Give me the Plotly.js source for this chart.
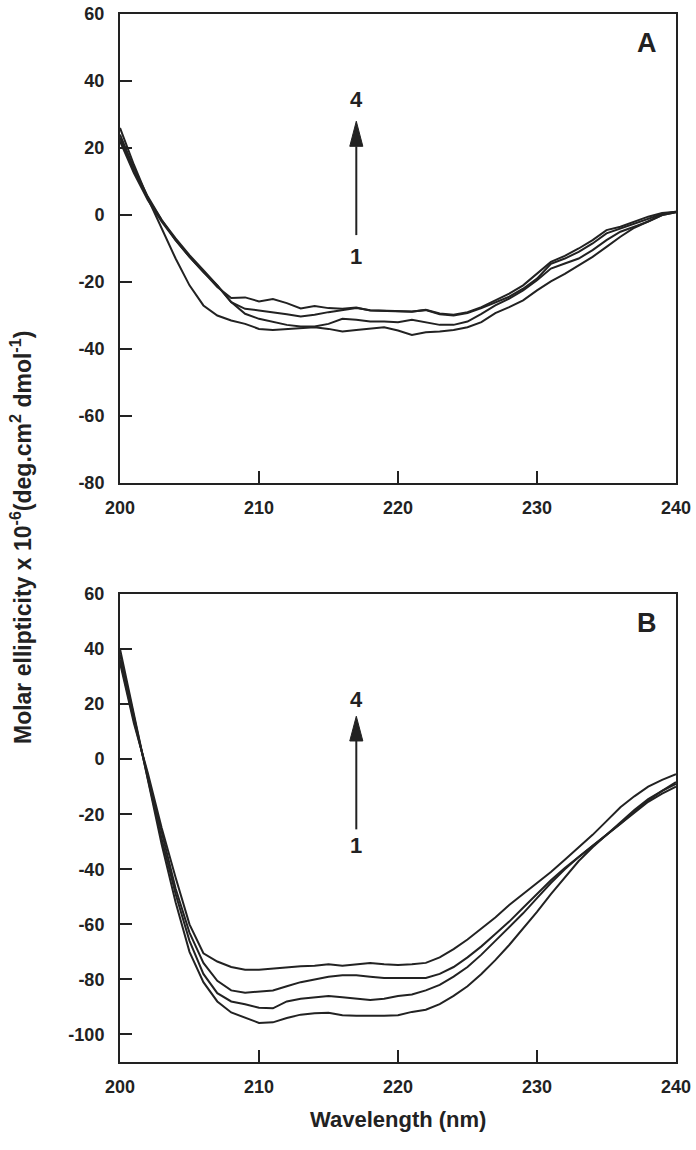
<!DOCTYPE html>
<html>
<head>
<meta charset="utf-8">
<script src="https://cdn.plot.ly/plotly-3.0.1.min.js"></script>
<style>html,body{margin:0;padding:0;background:#fff;}#chart{width:696px;height:1150px;}</style>
</head>
<body>
<div id="chart"></div>
<script>
// Wavelength (nm)
const wavelength = [200,201,202,203,204,205,206,207,208,209,210,211,212,213,214,215,216,217,218,219,220,
                    221,222,223,224,225,226,227,228,229,230,231,232,233,234,235,236,237,238,239,240];

// Panel A – four spectra (1 = lowest, 4 = highest)
const a1 = [26,15,5,-4,-13,-21,-27,-30,-31.5,-32.5,-34,-34.3,-34,-33.8,-33.5,-34,-34.8,-34.3,-33.8,-33.5,-34.5,
            -35.8,-35,-34.8,-34.3,-33.5,-32,-29.3,-27.5,-25.5,-22.5,-19.8,-17.6,-15,-12.5,-9.5,-6.5,-3.8,-1.8,0,0.8];
const a2 = [24,14,5.5,-1.5,-7.5,-12.5,-17,-21,-26,-29.5,-31,-32,-32.8,-33.3,-33.3,-32.5,-31,-31.3,-31.8,-31.8,-32,
            -31.3,-32,-32.8,-32.8,-31.8,-29.5,-27,-25,-22.5,-19.5,-16,-14.5,-13,-10.5,-7.5,-5,-3.5,-2,0,0.8];
const a3 = [23,13,5,-1.5,-7,-12,-16.5,-21,-26,-28,-28.5,-29,-29.6,-30.3,-29.8,-29,-28.4,-27.8,-28.4,-28.6,-28.8,
            -28.8,-28.4,-29.6,-30,-29.3,-27.8,-26,-24.4,-22,-19,-14.6,-13,-11,-8.5,-5.5,-4,-2.5,-1,0.3,1];
const a4 = [22,12.5,4.5,-2,-7.5,-12.5,-17,-21.5,-24.8,-24.6,-25.8,-25.1,-26.3,-27.9,-27.2,-27.8,-28,-27.6,-28.5,-28.7,-28.7,
            -28.9,-28.3,-29.4,-29.8,-29,-27.5,-25.5,-23.5,-21,-17.5,-14,-12.2,-10,-7.5,-4.5,-3.5,-2,-0.5,0.6,1];

// Panel B – four spectra (1 = lowest, 4 = highest)
const b1 = [40,16,-8,-31,-52,-70,-81,-88,-92,-94,-95.8,-95.6,-94,-92.8,-92.3,-92.1,-93,-93.2,-93.3,-93.2,-93,
            -91.8,-91,-89,-86,-82.5,-78,-73,-67.5,-61.5,-55.5,-49,-43,-37,-32,-27.5,-23,-18.5,-14.5,-11.5,-9];
const b2 = [38,15,-7,-29,-49,-66,-78,-85,-88,-89,-90.3,-90.5,-88,-87,-86.5,-86,-86.5,-87,-87.5,-87,-86,
            -85.5,-84,-82,-79,-75.5,-71,-66,-61,-56,-50.5,-45,-40,-35.5,-31.5,-27.5,-23.5,-19.5,-15.5,-12.5,-10];
const b3 = [36,14,-6,-27,-47,-63,-74,-80.5,-84,-84.8,-84.5,-84,-82.5,-81,-80,-79,-78.5,-78.5,-79,-79.5,-79.5,
            -79.5,-79.5,-78,-75.5,-72,-68,-63.5,-59,-54,-49,-44,-39.5,-35.5,-31.5,-27.5,-23.5,-19,-15,-11.5,-8.3];
const b4 = [35,13,-5,-25,-43,-60,-70.5,-73.5,-75.5,-76.5,-76.5,-76,-75.5,-75.2,-75,-74.5,-75,-74.5,-74,-74.5,-74.8,
            -74.5,-74,-72,-69,-65.5,-61.5,-57.5,-53,-49,-45,-41,-36.5,-32,-27.5,-22.5,-17.5,-13.5,-10,-7.5,-5.5];

// Tick values and labels (hyphen-minus as in the original)
const xTicks = [200,210,220,230,240];
const yTicksA = [-80,-60,-40,-20,0,20,40,60];
const yTicksB = [-100,-80,-60,-40,-20,0,20,40,60];
const yLabelsA = ['-80','-60','-40','-20','0','20','40','60'];
const yLabelsB = ['-100','-80','-60','-40','-20','0','20','40','60'];

// Arrow annotations (wavelength, from value, to value)
const arrowA = {x: 217, from: -6, to: 28, head: 7.5, halfW: 0.47, lab4: 34.5, lab1: -12.5};
const arrowB = {x: 217, from: -25.5, to: 15.6, head: 9, halfW: 0.47, lab4: 21.8, lab1: -31.3};

const ink = '#222';
const FAM = 'Liberation Sans, Arial, sans-serif';
const tickFont = {family: FAM, size: 18, color: ink, weight: 'bold'};

function line(y, xa, ya) {
  return {x: wavelength, y: y, xaxis: xa, yaxis: ya, type: 'scatter', mode: 'lines',
          line: {color: ink, width: 2}, hoverinfo: 'skip', showlegend: false};
}
const traces = [
  line(a1,'x','y'), line(a2,'x','y'), line(a3,'x','y'), line(a4,'x','y'),
  line(b1,'x2','y2'), line(b2,'x2','y2'), line(b3,'x2','y2'), line(b4,'x2','y2')
];

function xax(anchor) {
  return {anchor: anchor, domain: [0,1], range: [200,240], tickvals: xTicks, ticktext: xTicks.map(String),
          ticks: 'inside', ticklen: 12, tickwidth: 2, tickcolor: ink, showline: true, linewidth: 2,
          linecolor: ink, mirror: true, showgrid: false, zeroline: false, tickfont: tickFont, ticklabelstandoff: 7};
}
function yax(anchor, dom, rng, tv, tt) {
  return {anchor: anchor, domain: dom, range: rng, tickvals: tv, ticktext: tt, ticks: 'inside', ticklen: 12,
          tickwidth: 2, tickcolor: ink, showline: true, linewidth: 2, linecolor: ink, mirror: true,
          showgrid: false, zeroline: false, tickfont: tickFont, ticklabelstandoff: 10};
}

function arrowShapes(a, xr, yr) {
  const base = a.to - a.head;
  return [
    {type: 'line', xref: xr, yref: yr, x0: a.x, x1: a.x, y0: a.from, y1: base, line: {color: ink, width: 2}},
    {type: 'path', xref: xr, yref: yr, fillcolor: ink, line: {color: ink, width: 1},
     path: `M ${a.x - a.halfW},${base} L ${a.x + a.halfW},${base} L ${a.x},${a.to} Z`}
  ];
}
const numFont = {family: FAM, size: 22, color: ink, weight: 'bold'};
function arrowLabels(a, xr, yr) {
  return [
    {xref: xr, yref: yr, x: a.x, y: a.lab4, text: '4', showarrow: false, font: numFont, xanchor: 'center', yanchor: 'middle'},
    {xref: xr, yref: yr, x: a.x, y: a.lab1, text: '1', showarrow: false, font: numFont, xanchor: 'center', yanchor: 'middle'}
  ];
}

const layout = {
  width: 696, height: 1150,
  margin: {l: 120, r: 20, t: 14, b: 88},
  paper_bgcolor: '#fff', plot_bgcolor: '#fff',
  showlegend: false,
  xaxis: xax('y'),
  yaxis: yax('x', [0.5525, 1], [-80, 60], yTicksA, yLabelsA),
  xaxis2: xax('y2'),
  yaxis2: yax('x2', [0, 0.4466], [-110, 60], yTicksB, yLabelsB),
  shapes: [...arrowShapes(arrowA, 'x', 'y'), ...arrowShapes(arrowB, 'x2', 'y2')],
  annotations: [
    ...arrowLabels(arrowA, 'x', 'y'), ...arrowLabels(arrowB, 'x2', 'y2'),
    {xref: 'paper', yref: 'paper', x: 0.948, y: 0.9723, text: 'A', showarrow: false,
     font: {family: FAM, size: 27, color: ink, weight: 'bold'}, xanchor: 'center', yanchor: 'middle'},
    {xref: 'paper', yref: 'paper', x: 0.948, y: 0.4189, text: 'B', showarrow: false,
     font: {family: FAM, size: 27, color: ink, weight: 'bold'}, xanchor: 'center', yanchor: 'middle'},
    {xref: 'paper', yref: 'paper', x: -0.178, y: 0.5, textangle: -90, showarrow: false,
     text: 'Molar ellipticity x 10<sup>-6</sup>(deg.cm<sup>2</sup> dmol<sup>-1</sup>)',
     font: {family: FAM, size: 23, color: ink, weight: 'bold'}, xanchor: 'center', yanchor: 'middle'},
    {xref: 'paper', yref: 'paper', x: 0.5, y: -0.0553, showarrow: false, text: 'Wavelength (nm)',
     font: {family: FAM, size: 22, color: ink, weight: 'bold'}, xanchor: 'center', yanchor: 'middle'}
  ]
};

Plotly.newPlot('chart', traces, layout, {displayModeBar: false, staticPlot: true});
</script>
</body>
</html>
